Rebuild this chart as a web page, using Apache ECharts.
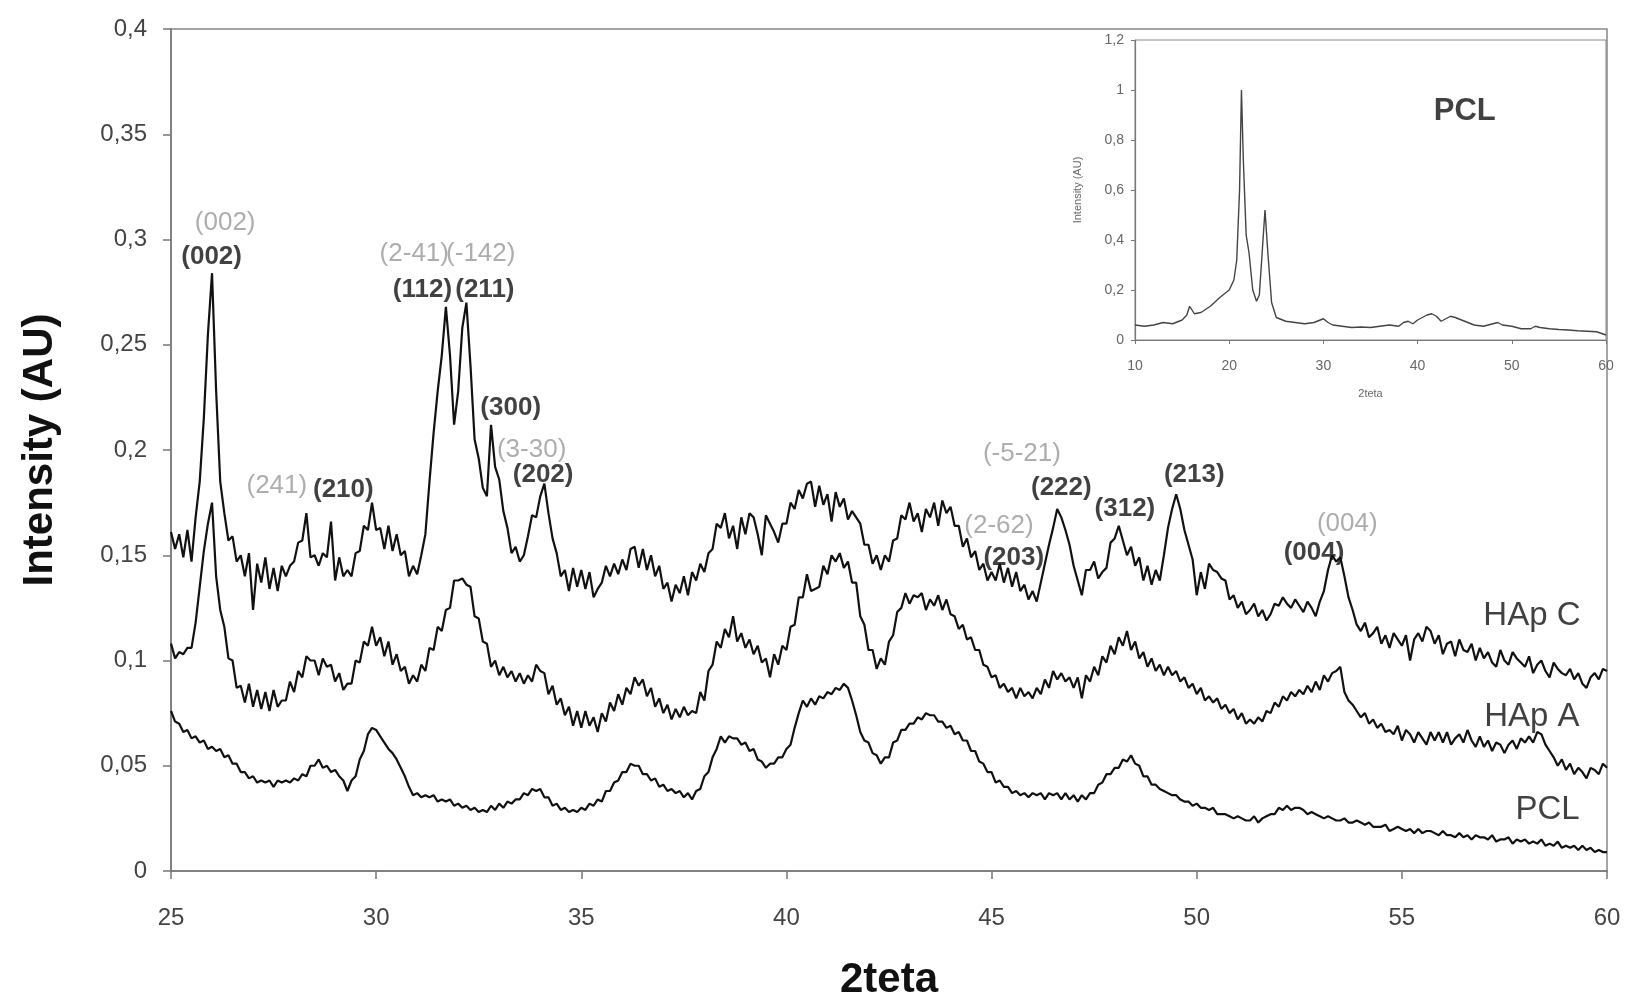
<!DOCTYPE html>
<html>
<head>
<meta charset="utf-8">
<script src="https://cdn.jsdelivr.net/npm/echarts@6/dist/echarts.min.js"></script>
<style>
html,body{margin:0;padding:0;background:#fff;}
#chart{width:1629px;height:1001px;}
</style>
</head>
<body>
<div id="chart"></div>
<script>
// 2theta grid: start 25, step 0.1, to 60
const xStart = 25;
const xStep = 0.1;

const hapC = [
0.161,0.153,0.160,0.149,0.162,0.147,0.168,0.185,0.215,0.255,
0.284,0.228,0.185,0.170,0.157,0.159,0.147,0.150,0.140,0.151,
0.124,0.146,0.137,0.149,0.134,0.144,0.133,0.145,0.140,0.145,
0.147,0.156,0.157,0.170,0.149,0.150,0.145,0.151,0.149,0.166,
0.138,0.149,0.140,0.143,0.140,0.151,0.152,0.164,0.162,0.175,
0.162,0.163,0.153,0.164,0.152,0.160,0.150,0.152,0.140,0.145,
0.141,0.150,0.160,0.185,0.208,0.228,0.245,0.268,0.245,0.212,
0.228,0.258,0.270,0.240,0.205,0.196,0.182,0.178,0.212,0.192,
0.186,0.171,0.163,0.151,0.154,0.147,0.150,0.159,0.169,0.168,
0.178,0.184,0.170,0.158,0.151,0.140,0.143,0.133,0.144,0.135,
0.143,0.134,0.142,0.130,0.134,0.137,0.145,0.140,0.146,0.141,
0.148,0.143,0.153,0.154,0.144,0.153,0.143,0.150,0.140,0.145,
0.134,0.137,0.128,0.136,0.132,0.140,0.131,0.142,0.138,0.146,
0.142,0.151,0.153,0.165,0.163,0.170,0.158,0.164,0.153,0.168,
0.160,0.170,0.168,0.160,0.150,0.169,0.165,0.161,0.156,0.165,
0.165,0.175,0.172,0.181,0.177,0.184,0.185,0.173,0.183,0.174,
0.179,0.166,0.180,0.173,0.177,0.167,0.171,0.168,0.165,0.155,
0.155,0.146,0.150,0.143,0.150,0.147,0.157,0.158,0.169,0.167,
0.175,0.166,0.170,0.161,0.172,0.168,0.175,0.164,0.176,0.170,
0.173,0.164,0.164,0.154,0.158,0.149,0.152,0.143,0.146,0.138,
0.142,0.138,0.146,0.137,0.144,0.135,0.142,0.133,0.136,0.129,
0.133,0.128,0.137,0.146,0.155,0.163,0.172,0.168,0.162,0.155,
0.145,0.138,0.131,0.143,0.143,0.147,0.139,0.142,0.144,0.156,
0.158,0.164,0.157,0.150,0.154,0.145,0.149,0.138,0.145,0.136,
0.143,0.138,0.150,0.163,0.172,0.179,0.172,0.162,0.155,0.148,
0.131,0.142,0.134,0.146,0.143,0.142,0.139,0.138,0.129,0.131,
0.125,0.128,0.122,0.124,0.127,0.121,0.124,0.119,0.122,0.127,
0.126,0.130,0.127,0.125,0.129,0.126,0.123,0.128,0.125,0.121,
0.128,0.133,0.143,0.150,0.147,0.149,0.140,0.130,0.124,0.117,
0.114,0.118,0.111,0.113,0.116,0.108,0.112,0.106,0.113,0.110,
0.107,0.112,0.100,0.110,0.113,0.109,0.116,0.114,0.108,0.112,
0.103,0.108,0.109,0.102,0.110,0.105,0.104,0.108,0.100,0.106,
0.101,0.104,0.099,0.097,0.105,0.100,0.098,0.104,0.101,0.099,
0.097,0.102,0.094,0.098,0.100,0.095,0.092,0.099,0.096,0.094,
0.093,0.096,0.091,0.094,0.089,0.087,0.092,0.094,0.091,0.096,
0.095
];

const hapA = [
0.108,0.101,0.104,0.103,0.106,0.106,0.118,0.135,0.152,0.165,
0.175,0.140,0.124,0.116,0.101,0.100,0.087,0.088,0.080,0.089,
0.078,0.086,0.077,0.085,0.076,0.086,0.078,0.081,0.081,0.090,
0.085,0.095,0.092,0.102,0.100,0.100,0.093,0.101,0.097,0.098,
0.090,0.094,0.086,0.089,0.089,0.100,0.099,0.109,0.107,0.116,
0.107,0.111,0.102,0.109,0.098,0.103,0.095,0.097,0.089,0.093,
0.090,0.098,0.095,0.106,0.105,0.116,0.114,0.124,0.125,0.138,
0.138,0.139,0.136,0.135,0.121,0.120,0.109,0.108,0.097,0.100,
0.093,0.097,0.092,0.095,0.090,0.094,0.089,0.093,0.090,0.098,
0.095,0.094,0.084,0.088,0.079,0.082,0.074,0.078,0.069,0.076,
0.068,0.076,0.069,0.073,0.066,0.075,0.071,0.080,0.076,0.084,
0.079,0.087,0.084,0.092,0.088,0.091,0.083,0.087,0.078,0.082,
0.075,0.079,0.072,0.077,0.073,0.078,0.074,0.076,0.075,0.085,
0.081,0.095,0.098,0.109,0.106,0.115,0.111,0.121,0.109,0.113,
0.106,0.110,0.103,0.107,0.099,0.101,0.092,0.103,0.098,0.107,
0.105,0.116,0.117,0.130,0.130,0.141,0.133,0.134,0.135,0.145,
0.141,0.150,0.147,0.151,0.144,0.147,0.137,0.137,0.121,0.117,
0.105,0.105,0.096,0.101,0.098,0.109,0.112,0.123,0.125,0.132,
0.127,0.131,0.130,0.132,0.124,0.129,0.126,0.131,0.124,0.129,
0.122,0.121,0.115,0.117,0.110,0.111,0.105,0.105,0.098,0.097,
0.092,0.093,0.087,0.089,0.085,0.087,0.082,0.087,0.083,0.085,
0.082,0.087,0.084,0.091,0.087,0.095,0.091,0.094,0.090,0.092,
0.087,0.092,0.082,0.093,0.090,0.097,0.093,0.102,0.099,0.107,
0.103,0.111,0.107,0.114,0.105,0.109,0.101,0.104,0.097,0.101,
0.095,0.098,0.093,0.097,0.093,0.095,0.090,0.092,0.087,0.089,
0.084,0.087,0.081,0.083,0.080,0.082,0.077,0.079,0.075,0.077,
0.072,0.075,0.070,0.072,0.070,0.073,0.071,0.076,0.075,0.080,
0.078,0.083,0.081,0.085,0.083,0.086,0.084,0.088,0.085,0.090,
0.086,0.093,0.090,0.094,0.095,0.097,0.085,0.081,0.079,0.076,
0.073,0.075,0.070,0.072,0.068,0.070,0.066,0.067,0.065,0.069,
0.062,0.067,0.065,0.061,0.066,0.063,0.060,0.066,0.062,0.066,
0.061,0.066,0.060,0.063,0.065,0.061,0.067,0.062,0.059,0.064,
0.059,0.062,0.057,0.061,0.060,0.056,0.060,0.062,0.058,0.063,
0.061,0.064,0.061,0.066,0.065,0.060,0.057,0.054,0.050,0.053,
0.048,0.051,0.046,0.049,0.047,0.044,0.049,0.048,0.046,0.051,
0.049
];

const pcl = [
0.076,0.071,0.070,0.066,0.067,0.063,0.064,0.061,0.062,0.058,
0.059,0.057,0.058,0.054,0.055,0.051,0.051,0.047,0.047,0.044,
0.045,0.042,0.043,0.042,0.043,0.040,0.043,0.042,0.043,0.042,
0.044,0.043,0.046,0.045,0.050,0.050,0.053,0.049,0.050,0.047,
0.048,0.045,0.043,0.038,0.043,0.045,0.053,0.057,0.065,0.068,
0.067,0.064,0.061,0.058,0.056,0.053,0.049,0.045,0.040,0.036,
0.037,0.035,0.036,0.035,0.036,0.033,0.034,0.033,0.034,0.031,
0.032,0.030,0.031,0.029,0.030,0.028,0.029,0.028,0.031,0.029,
0.032,0.030,0.033,0.032,0.034,0.034,0.037,0.036,0.039,0.038,
0.039,0.035,0.035,0.031,0.032,0.029,0.030,0.028,0.029,0.028,
0.030,0.029,0.032,0.031,0.034,0.033,0.038,0.038,0.042,0.043,
0.047,0.047,0.051,0.050,0.050,0.046,0.046,0.043,0.044,0.040,
0.041,0.038,0.039,0.037,0.038,0.035,0.037,0.034,0.038,0.039,
0.045,0.047,0.054,0.058,0.064,0.061,0.064,0.063,0.063,0.060,
0.061,0.057,0.058,0.053,0.052,0.049,0.051,0.051,0.054,0.054,
0.058,0.060,0.068,0.075,0.081,0.078,0.082,0.079,0.083,0.082,
0.085,0.084,0.087,0.086,0.089,0.087,0.081,0.074,0.066,0.062,
0.061,0.056,0.055,0.051,0.054,0.054,0.061,0.062,0.067,0.067,
0.070,0.070,0.073,0.072,0.075,0.074,0.074,0.071,0.071,0.068,
0.069,0.065,0.066,0.062,0.062,0.057,0.057,0.052,0.051,0.047,
0.047,0.042,0.043,0.040,0.040,0.037,0.038,0.036,0.037,0.035,
0.037,0.036,0.037,0.034,0.037,0.036,0.037,0.034,0.037,0.034,
0.036,0.033,0.036,0.034,0.037,0.037,0.041,0.042,0.046,0.046,
0.049,0.049,0.053,0.052,0.055,0.051,0.050,0.045,0.045,0.041,
0.041,0.039,0.038,0.037,0.036,0.036,0.034,0.033,0.033,0.031,
0.032,0.030,0.030,0.029,0.030,0.027,0.027,0.027,0.026,0.025,
0.026,0.025,0.024,0.024,0.026,0.023,0.025,0.026,0.027,0.027,
0.030,0.029,0.031,0.029,0.030,0.030,0.029,0.027,0.028,0.027,
0.026,0.025,0.026,0.025,0.024,0.024,0.025,0.023,0.023,0.024,
0.023,0.022,0.023,0.021,0.021,0.021,0.022,0.019,0.020,0.021,
0.020,0.019,0.020,0.018,0.020,0.018,0.019,0.019,0.018,0.017,
0.019,0.017,0.017,0.016,0.018,0.016,0.017,0.015,0.017,0.016,
0.016,0.015,0.017,0.014,0.015,0.015,0.016,0.013,0.015,0.014,
0.015,0.013,0.014,0.013,0.015,0.012,0.013,0.012,0.014,0.011,
0.012,0.011,0.012,0.010,0.012,0.010,0.011,0.009,0.010,0.009,
0.009
];

// Inset: full PCL pattern
const insetX = [10,11,12,13,14,15,15.5,15.8,16.3,17,18,19,20,20.5,20.8,21.1,21.3,21.5,21.8,22.1,22.5,22.9,23.2,23.5,23.8,24.1,24.5,25,26,27,28,29,30,30.5,31,32,33,34,35,36,37,38,38.5,39,39.5,40,41,41.5,42,42.5,43,43.5,44,45,46,47,48,48.5,49,50,51,52,52.5,53,54,55,56,57,58,59,60];
const insetY = [0.06,0.055,0.06,0.07,0.065,0.08,0.1,0.135,0.105,0.11,0.135,0.17,0.2,0.24,0.32,0.6,1.0,0.72,0.42,0.35,0.2,0.155,0.18,0.35,0.52,0.35,0.15,0.09,0.075,0.07,0.065,0.07,0.085,0.07,0.06,0.055,0.05,0.052,0.05,0.055,0.06,0.055,0.07,0.075,0.065,0.08,0.1,0.105,0.095,0.075,0.085,0.095,0.09,0.075,0.06,0.055,0.065,0.07,0.06,0.055,0.045,0.045,0.055,0.05,0.045,0.042,0.04,0.037,0.035,0.033,0.02];

// Peak annotations (data coordinates)
const blackNames = ['(002)','(112)','(211)','(300)','(202)','(210)','(203)','(222)','(312)','(213)','(004)'];
const blackX = [25.99, 31.13, 32.65, 33.28, 34.07, 29.20, 45.54, 46.70, 48.25, 49.94, 52.86];
const blackY = [0.292, 0.276, 0.276, 0.220, 0.188, 0.181, 0.149, 0.182, 0.172, 0.188, 0.151];
const greyNames = ['(2-41)','(-142)','(002)','(241)','(3-30)','(-5-21)','(2-62)','(004)'];
const greyX = [30.93, 32.55, 26.32, 27.58, 33.79, 45.74, 45.18, 53.67];
const greyY = [0.293, 0.293, 0.308, 0.183, 0.200, 0.198, 0.164, 0.165];
const curveNames = ['HAp C','HAp A','PCL'];
const curveNameX = [58.17, 58.17, 58.55];
const curveNameY = [0.121, 0.073, 0.029];

const FONT = '"Liberation Sans", Arial, sans-serif';
function toXY(arr){ return arr.map((v,i)=>[+(xStart + i*xStep).toFixed(2), v]); }
function pts(names, xs, ys){ return names.map((n,i)=>({name:n, value:[xs[i], ys[i]]})); }
function comma(v){ return String(+(+v).toFixed(3)).replace('.', ','); }

const lineStyleMain = {color:'#111', width:2.2};
function mainLine(name, arr){
  return {type:'line', name:name, xAxisIndex:0, yAxisIndex:0, data:toXY(arr), showSymbol:false,
    symbol:'none', lineStyle:lineStyleMain, sampling:null, silent:true, z:3};
}
function textSeries(data, xi, yi, color, weight, size){
  return {type:'scatter', xAxisIndex:xi, yAxisIndex:yi, data:data, symbolSize:0, silent:true, z:5,
    label:{show:true, position:'inside', formatter:'{b}', color:color, fontWeight:weight, fontSize:size, fontFamily:FONT}};
}

const chart = echarts.init(document.getElementById('chart'), null, {renderer:'canvas'});
chart.setOption({
  animation:false,
  backgroundColor:'#fff',
  grid:[
    {left:171, right:22, top:29, bottom:130, containLabel:false, outerBoundsMode:'none',
     show:true, borderColor:'#888', borderWidth:1.5, backgroundColor:'transparent'},
    {left:1135, right:23, top:40, bottom:661, containLabel:false, outerBoundsMode:'none',
     show:true, borderColor:'#888', borderWidth:1, backgroundColor:'#fff'}
  ],
  xAxis:[
    {type:'value', gridIndex:0, min:25, max:60, interval:5,
     name:'2teta', nameLocation:'middle', nameGap:88,
     nameTextStyle:{fontSize:42, fontWeight:'bold', color:'#111', fontFamily:FONT},
     axisLine:{show:true, lineStyle:{color:'#777', width:1.5}},
     axisTick:{show:true, inside:false, length:8, lineStyle:{color:'#777', width:1.5}},
     axisLabel:{fontSize:24, color:'#444', margin:35, fontFamily:FONT},
     splitLine:{show:false}},
    {type:'value', gridIndex:1, min:10, max:60, interval:10,
     name:'2teta', nameLocation:'middle', nameGap:48,
     nameTextStyle:{fontSize:11, color:'#666', fontFamily:FONT},
     axisLine:{show:true, lineStyle:{color:'#777', width:1.2}},
     axisTick:{show:true, length:4, lineStyle:{color:'#777'}},
     axisLabel:{fontSize:14, color:'#666', margin:19, fontFamily:FONT},
     splitLine:{show:false}}
  ],
  yAxis:[
    {type:'value', gridIndex:0, min:0, max:0.4, interval:0.05,
     name:'Intensity (AU)', nameLocation:'middle', nameGap:110,
     nameTextStyle:{fontSize:42, fontWeight:'bold', color:'#111', fontFamily:FONT},
     axisLine:{show:true, lineStyle:{color:'#777', width:1.5}},
     axisTick:{show:true, inside:false, length:8, lineStyle:{color:'#777', width:1.5}},
     axisLabel:{fontSize:24, color:'#444', margin:24, fontFamily:FONT, formatter:comma},
     splitLine:{show:false}},
    {type:'value', gridIndex:1, min:0, max:1.2, interval:0.2,
     name:'Intensity (AU)', nameLocation:'middle', nameGap:52,
     nameTextStyle:{fontSize:11, color:'#666', fontFamily:FONT},
     axisLine:{show:true, lineStyle:{color:'#777', width:1.2}},
     axisTick:{show:true, length:4, lineStyle:{color:'#777'}},
     axisLabel:{fontSize:14, color:'#666', margin:11, fontFamily:FONT, formatter:comma},
     splitLine:{show:false}}
  ],
  series:[
    mainLine('HAp C', hapC),
    mainLine('HAp A', hapA),
    mainLine('PCL', pcl),
    {type:'line', name:'PCL inset', xAxisIndex:1, yAxisIndex:1, data:insetX.map((x,i)=>[x, insetY[i]]),
     showSymbol:false, symbol:'none', lineStyle:{color:'#444', width:1.4}, silent:true, z:3},
    textSeries(pts(greyNames, greyX, greyY), 0, 0, '#999', 'normal', 26),
    textSeries(pts(blackNames, blackX, blackY), 0, 0, '#111', 'bold', 26),
    textSeries(pts(curveNames, curveNameX, curveNameY), 0, 0, '#111', 'normal', 33),
    textSeries([{name:'PCL', value:[45, 0.916]}], 1, 1, '#111', 'bold', 31)
  ]
});
</script>
</body>
</html>
